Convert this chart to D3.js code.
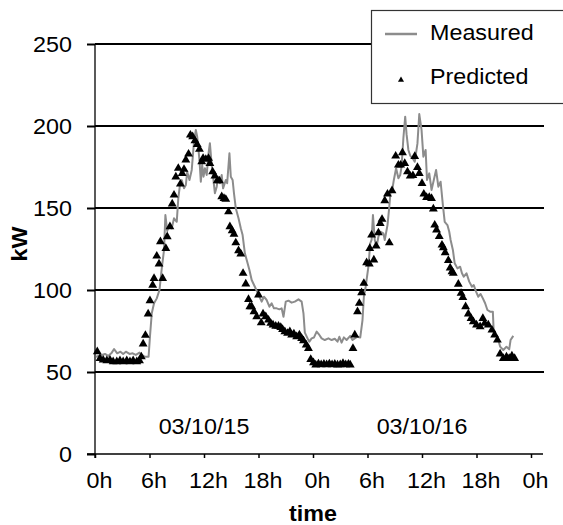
<!DOCTYPE html>
<html>
<head>
<meta charset="utf-8">
<script src="https://cdn.jsdelivr.net/npm/d3@7"></script>
<style>
  body { margin: 0; background: #fff; }
  svg { display: block; font-family: "Liberation Sans", Arial, sans-serif; }
</style>
</head>
<body>
<div id="chart"></div>
<script>
// hours since 0h of 03/10/15, and load in kW
const measuredHours = [0.1, 0.75, 1.1, 1.45, 1.85, 2.1, 2.45, 2.8, 3.1, 3.4, 3.8, 4.15, 4.5, 4.9, 5.15, 5.5, 5.9,
  6.05, 6.25, 6.5, 6.8, 7.1, 7.35, 7.6, 7.75, 7.95, 8.2, 8.45, 8.7, 9.0, 9.17, 9.35, 9.55, 9.8, 10.0, 10.15,
  10.4, 10.65, 10.9, 11.1, 11.25, 11.5, 11.65, 11.8, 11.95, 12.1, 12.3, 12.5, 12.65, 12.85, 13.0, 13.2, 13.4,
  13.55, 13.75, 13.95, 14.1, 14.4, 14.55, 14.8, 14.95, 15.15, 15.3, 15.5, 15.8, 16.05, 16.25, 16.5, 16.8, 17.0,
  17.25, 17.6, 18.0, 18.35, 18.6, 18.9, 19.2, 19.45, 19.7, 20.0, 20.3, 20.55, 20.75, 21.0, 21.3, 21.65, 22.0,
  22.4, 22.75, 22.95, 23.1, 23.4, 23.6, 23.85, 24.1, 24.4, 24.7, 24.95, 25.3, 25.7, 26.05, 26.4, 26.7, 26.9,
  27.15, 27.4, 27.7, 28.1, 28.35, 28.6, 28.9, 29.2, 29.45, 29.6, 29.8, 30.1, 30.3, 30.45, 30.6, 30.8, 31.0,
  31.2, 31.45, 31.75, 31.9, 32.2, 32.4, 32.55, 32.75, 32.9, 33.15, 33.4, 33.6, 33.75, 33.95, 34.15, 34.3, 34.5,
  34.7, 35.0, 35.2, 35.5, 35.7, 35.95, 36.15, 36.4, 36.55, 36.8, 37.05, 37.3, 37.55, 37.8, 38.05, 38.3, 38.5,
  38.8, 39.0, 39.15, 39.4, 39.6, 39.9, 40.2, 40.4, 40.6, 40.9, 41.2, 41.5, 41.7, 41.95, 42.2, 42.45, 42.7,
  42.95, 43.2, 43.5, 43.8, 43.9, 44.15, 44.4, 44.6, 44.95, 45.3, 45.6, 45.75, 46.05];
const measuredKW = [59.3, 60.4, 61, 59.8, 61.8, 64, 61.4, 62.4, 61, 62.4, 61, 61.4, 60.4, 61.8, 60.4, 59.3, 59.3,
  71.5, 85.8, 91.9, 94.9, 100, 113.2, 124.4, 145.7, 136, 139.6, 137.6, 143.7, 141.6, 155.9, 164, 167, 162, 164, 172.1,
  167.1, 173.2, 190.4, 197.6, 193.5, 179.3, 166, 176.2, 169.1, 174.2, 170.1, 183.4, 189.5, 176.2, 169.1, 159, 163,
  169.1, 165.1, 170.1, 162, 167.1, 165.1, 183.4, 169.1, 167.1, 159, 149.8, 143.7, 137.6, 133.5, 122.4, 116.3, 112.2,
  106.1, 102, 97, 92.9, 95.9, 93.9, 89.8, 91.9, 88.8, 88.8, 88.2, 88.8, 83.7, 92.9, 93.5, 92.3, 92.9,
  94.3, 92.9, 85.8, 74, 70.5, 68.5, 70.5, 71, 74.6, 72.6, 70.5, 69.5, 70.5, 69.5, 70.3, 68.5, 71.5,
  67.9, 71.1, 69.5, 72, 69.5, 70.5, 71.5, 71, 81.7, 95.9, 102, 114.2, 128.4, 130.5, 145.7, 130.5, 126.4,
  132.5, 135.5, 134.5, 130.5, 139.6, 150.8, 161, 162, 167.1, 174.2, 168.1, 170.1, 175.2, 192.5, 205.7, 195, 185.4,
  182, 180, 178.2, 189.4, 207.3, 197.6, 181.3, 185.4, 167.1, 171.1, 161, 167.1, 173.2, 163, 166, 151.8, 141.6,
  139.6, 135.5, 130.5, 124.4, 116.3, 113.2, 114.2, 110.2, 108.1, 110.2, 105.1, 102, 103, 99, 95.9, 97.6, 94.9,
  91.9, 87.8, 86.8, 86.8, 73.6, 72.6, 69.5, 65.5, 63.4, 65.4, 63.8, 69.5, 72];

const predictedHours = [0.25, 0.55, 0.9, 1.3, 1.65, 2.0, 2.4, 2.75, 3.1, 3.5, 3.85, 4.2, 4.6, 4.9, 5.1, 5.3, 5.55,
  5.85, 6.05, 6.35, 6.5, 6.8, 7.05, 7.2, 7.45, 7.8, 7.95, 8.25, 8.5, 8.7, 8.9, 9.17, 9.4, 9.6, 9.8, 10.0, 10.3,
  10.5, 10.75, 11.0, 11.25, 11.5, 11.75, 11.9, 12.2, 12.5, 12.65, 12.95, 13.2, 13.45, 13.7, 13.95, 14.2, 14.4,
  14.7, 14.85, 15.1, 15.3, 15.5, 15.8, 16.05, 16.3, 16.6, 16.9, 17.05, 17.25, 17.5, 17.8, 18.0, 18.3, 18.5, 18.8,
  19.1, 19.35, 19.6, 19.9, 20.2, 20.45, 20.65, 20.9, 21.2, 21.45, 21.65, 21.9, 22.2, 22.5, 22.75, 22.95, 23.25,
  23.5, 23.75, 24.05, 24.3, 24.6, 24.9, 25.2, 25.5, 25.8, 26.1, 26.4, 26.7, 27.0, 27.3, 27.6, 27.9, 28.1, 28.4,
  28.6, 28.9, 29.1, 29.35, 29.6, 29.9, 30.2, 30.25, 30.45, 30.7, 30.95, 31.2, 31.4, 31.6, 31.9, 32.2, 32.4, 32.7,
  33.1, 33.4, 33.65, 33.85, 34.1, 34.4, 34.7, 35.0, 35.2, 35.5, 35.7, 36.0, 36.2, 36.5, 36.8, 37.05, 37.25, 37.4,
  37.6, 37.9, 38.2, 38.35, 38.55, 38.9, 39.1, 39.3, 39.45, 40.0, 40.3, 40.5, 40.8, 41.1, 41.4, 41.65, 42.0, 42.4,
  42.7, 42.9, 43.3, 43.7, 44.0, 44.3, 44.6, 44.95, 45.3, 45.6, 45.9, 46.2];
const predictedKW = [62.4, 58.3, 57.3, 56.9, 57.3, 56.3, 56.3, 56.9, 56.3, 56.9, 56.3, 56.9, 56.3, 56.9, 59.3, 67.1, 72.4,
  85.4, 93.5, 103, 107.1, 120.7, 115.9, 129.5, 107.1, 125.4, 132.5, 138.6, 152.5, 157.9, 169, 174.2, 164.6, 171.1, 173.6, 179.3, 182.9,
  194.5, 193.5, 191, 188.8, 185.8, 178.2, 180.3, 179.7, 180.3, 177.2, 172.1, 169.5, 166.6, 166.6, 156.9, 155.9, 155.3,
  147.7, 138.6, 136.2, 134.1, 128.8, 124, 122, 110.2, 103.7, 94.3, 89.8, 89.8, 86.8, 83.7, 97, 80, 85.4, 83.7,
  81.7, 79.7, 78.7, 78, 78, 77.2, 76, 74.6, 73.6, 74.6, 72.6, 73.2, 71.5, 72.6, 70.5, 69.1, 66.5,
  64.4, 57.7, 55.7, 54.3, 55, 54.5, 54.8, 54.5, 55, 54.5, 54.8, 54.3, 54.5, 55.3, 54.5, 54.8, 54.3, 64.4,
  72.6, 86.8, 91.9, 98.4, 104.1, 116.7, 115.9, 125.4, 133.5, 118.3, 126.8, 134.9, 140.6, 143.1, 154.5, 158.5, 128.8, 160.6,
  181.7, 176.2, 176.2, 183.7, 177.2, 172.1, 169.5, 169.8, 181.5, 174.8, 171.1, 165, 158.5, 156.5, 156.5, 155.9, 149.5, 139.6,
  136.6, 132.7, 127.4, 125.8, 122.8, 118, 113.5, 111.2, 110.2, 103.6, 98, 95.5, 89.8, 85.4, 82.7, 80.7, 78.7, 77.6,
  82.7, 79.7, 78.7, 75.6, 72.6, 69.5, 61, 58.3, 59.3, 58.3, 59.8, 58.3];

const yTicks = [0, 50, 100, 150, 200, 250];
const xTicks = [0, 6, 12, 18, 24, 30, 36, 42, 48];
const xTickLabels = ["0h", "6h", "12h", "18h", "0h", "6h", "12h", "18h", "0h"];
const dayLabels = ["03/10/15", "03/10/16"];
const dayCenters = [12, 36];
const seriesNames = ["Measured", "Predicted"];

const width = 563, height = 525;
const fontSize = 22;
const stretch = 1.06; // the source text is a little wider than plain Arial

const svg = d3.select("#chart").append("svg")
  .attr("width", width)
  .attr("height", height);

const x = d3.scaleLinear().domain([0, 48]).range([95, 531]);
const y = d3.scaleLinear().domain([0, 250]).range([454, 44]);

// place a text at (px,py) slightly stretched horizontally
function placeText(sel, px, py) {
  sel.attr("transform", (d, i) => {
    const tx = typeof px === "function" ? px(d, i) : px;
    const ty = typeof py === "function" ? py(d, i) : py;
    return `translate(${tx},${ty}) scale(${stretch},1)`;
  });
}

// horizontal grid lines (the 0 line is drawn thinner as the axis)
svg.append("g")
  .selectAll("line")
  .data(yTicks.filter(d => d > 0))
  .join("line")
  .attr("x1", x(0))
  .attr("x2", 544)
  .attr("y1", d => y(d))
  .attr("y2", d => y(d))
  .attr("stroke", "#000")
  .attr("stroke-width", 2);

// y axis
const yAxis = svg.append("g")
  .attr("transform", `translate(${x(0)},0)`)
  .call(d3.axisLeft(y).tickValues(yTicks).tickSize(8).tickPadding(15).tickFormat(d3.format("d")));
yAxis.select(".domain").remove();
yAxis.selectAll(".tick line").attr("stroke", "#000").attr("stroke-width", 2);
yAxis.selectAll(".tick text")
  .attr("x", null)
  .attr("fill", "#000")
  .attr("transform", `translate(-23,0) scale(${stretch},1)`)
  .style("font-size", fontSize + "px")
  .style("font-family", "'Liberation Sans', Arial, sans-serif");

svg.append("line")
  .attr("x1", x(0)).attr("x2", x(0))
  .attr("y1", y(250)).attr("y2", y(0) + 4)
  .attr("stroke", "#000").attr("stroke-width", 1.3);

// x axis
const xAxis = svg.append("g")
  .attr("transform", `translate(0,${y(0)})`)
  .call(d3.axisBottom(x).tickValues(xTicks).tickSize(4).tickPadding(14)
    .tickFormat((d, i) => xTickLabels[i]));
xAxis.select(".domain").remove();
xAxis.selectAll(".tick line").attr("stroke", "#000").attr("stroke-width", 1.5);
xAxis.selectAll(".tick text")
  .attr("fill", "#000")
  .attr("x", null)
  .attr("transform", `translate(4,0) scale(${stretch},1)`)
  .style("font-size", fontSize + "px")
  .style("font-family", "'Liberation Sans', Arial, sans-serif");

svg.append("line")
  .attr("x1", x(0) - 8).attr("x2", 543)
  .attr("y1", y(0)).attr("y2", y(0))
  .attr("stroke", "#000").attr("stroke-width", 1.3);

// axis titles
svg.append("text")
  .attr("text-anchor", "middle")
  .attr("font-weight", "bold")
  .style("font-size", fontSize + "px")
  .text("time")
  .call(placeText, (x(0) + x(48)) / 2, 521);

svg.append("text")
  .attr("transform", `translate(27,${(y(250) + y(0)) / 2 - 5}) rotate(-90) scale(${stretch},1)`)
  .attr("text-anchor", "middle")
  .attr("font-weight", "bold")
  .style("font-size", fontSize + "px")
  .text("kW");

// day labels
svg.append("g")
  .selectAll("text")
  .data(dayLabels)
  .join("text")
  .attr("text-anchor", "middle")
  .style("font-size", fontSize + "px")
  .text(d => d)
  .call(placeText, (d, i) => x(dayCenters[i]), 434);

// measured line
const measured = measuredHours.map((h, i) => [h, measuredKW[i]]);
const line = d3.line().x(d => x(d[0])).y(d => y(d[1]));

svg.append("path")
  .datum(measured)
  .attr("fill", "none")
  .attr("stroke", "#8c8c8c")
  .attr("stroke-width", 2)
  .attr("stroke-linejoin", "round")
  .attr("d", line);

// predicted triangles
const predicted = predictedHours.map((h, i) => [h, predictedKW[i]]);
const tri = d3.symbol().type(d3.symbolTriangle).size(34);

svg.append("g")
  .selectAll("path")
  .data(predicted)
  .join("path")
  .attr("transform", d => `translate(${x(d[0])},${y(d[1])})`)
  .attr("d", tri)
  .attr("fill", "#000");

// legend
const legend = svg.append("g");
legend.append("rect")
  .attr("x", 371.5).attr("y", 10.5)
  .attr("width", 220).attr("height", 93)
  .attr("fill", "#fff")
  .attr("stroke", "#333")
  .attr("stroke-width", 1.2);
legend.append("line")
  .attr("x1", 385).attr("x2", 417)
  .attr("y1", 34).attr("y2", 34)
  .attr("stroke", "#8c8c8c").attr("stroke-width", 2.5);
legend.append("path")
  .attr("transform", "translate(401,80)")
  .attr("d", d3.symbol().type(d3.symbolTriangle).size(16))
  .attr("fill", "#000");
legend.selectAll("text.lbl")
  .data(seriesNames)
  .join("text")
  .attr("class", "lbl")
  .style("font-size", fontSize + "px")
  .text(d => d)
  .call(placeText, 430, (d, i) => i === 0 ? 40 : 84);
</script>
</body>
</html>
